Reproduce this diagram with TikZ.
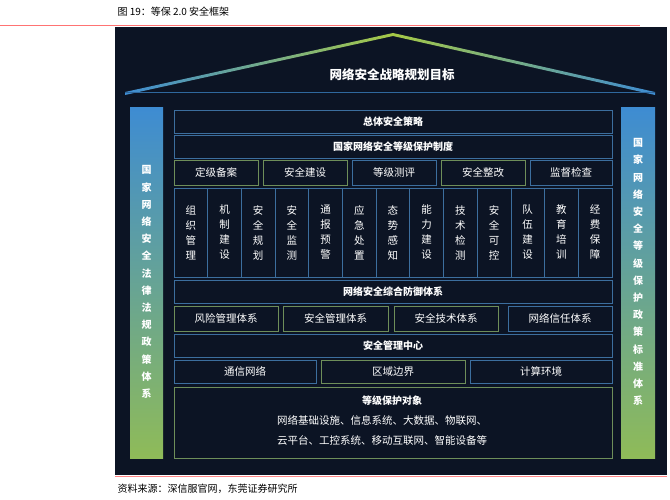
\documentclass[tikz,border=0pt]{standalone}
\usepackage{fontspec}
\setmainfont{Noto Sans CJK SC}
\usetikzlibrary{calc}
\definecolor{bg}{HTML}{0C1424}
\definecolor{bl}{HTML}{3C6E9E}
\definecolor{gr}{HTML}{6E8E5A}
\definecolor{sb}{HTML}{3E8CD2}
\definecolor{sg}{HTML}{8FBB58}
\tikzset{
  bx/.style={draw=bl,line width=0.8pt,text=white,font=\fontsize{10}{12}\selectfont,inner sep=0pt},
  hb/.style={bx,font=\bfseries\fontsize{10}{12}\selectfont},
  gbx/.style={bx,draw=gr},
  vt/.style={text=white,font=\fontsize{10.5}{15}\selectfont,align=center},
  sidet/.style={text=white,font=\bfseries\fontsize{10}{17.2}\selectfont,align=center}
}
\newcommand{\rb}[6]{\node[#1,minimum width=#4-#2,minimum height=#5-#3] (#6) at ({(#2+#4)/2},{(#3+#5)/2}) {};}
\begin{document}
\begin{tikzpicture}[x=1pt,y=-1pt]
\useasboundingbox (0,0) rectangle (670,500);
\node[anchor=west,font=\fontsize{10}{12}\selectfont] (cap) at (114,12) {图 19：等保 2.0 安全框架};
\draw[red!40!pink,line width=0.6pt] (0,25) coordinate (l1) -- (640,25) coordinate (l2);
\fill[bg] (115,27) rectangle (667,475);
\draw[red!30!pink,line width=0.8pt] (115,476) coordinate (b1) -- (667,476) coordinate (b2);
% roof
\coordinate (rl) at (125,93); \coordinate (ra) at (393,34); \coordinate (rr) at (655,93);
\shade[left color=sb,right color=sg!80!yellow] (125,92) -- (393,33) -- (393,36) -- (125,95) -- cycle;
\shade[left color=sg!80!yellow,right color=sb] (393,33) -- (655,92) -- (655,95) -- (393,36) -- cycle;
\draw[sb!70!bg,line width=1pt] (rl) -- (rr);
\node[text=white,font=\bfseries\fontsize{12.5}{14}\selectfont] (goal) at (392,75) {网络安全战略规划目标};
% side bars
\shade[top color=sb,bottom color=sg] (130,108) rectangle (163,458);
\shade[top color=sb,bottom color=sg] (621,108) rectangle (655,458);
\node[sidet] (lt) at (146.5,282) {国\\家\\网\\络\\安\\全\\法\\律\\法\\规\\政\\策\\体\\系};
\node[sidet] (rt) at (638,272) {国\\家\\网\\络\\安\\全\\等\\级\\保\\护\\政\\策\\标\\准\\体\\系};
% rows
\rb{hb}{174}{110}{612}{133}{r1} \node[text=white,font=\bfseries\fontsize{10}{12}\selectfont] at (r1) {总体安全策略};
\rb{hb}{174}{135}{612}{158}{r2} \node[text=white,font=\bfseries\fontsize{10}{12}\selectfont] at (r2) {国家网络安全等级保护制度};
\foreach \a/\b/\t/\s [count=\i] in {174/258/定级备案/gbx,263/347/安全建设/gbx,352/436/等级测评/bx,441/525/安全整改/gbx,530/612/监督检查/bx}{
  \rb{\s}{\a}{160}{\b}{185}{f\i} \node[text=white,font=\fontsize{10.5}{12}\selectfont] at (f\i) {\t};
}
\foreach \t [count=\i] in {组\\织\\管\\理,机\\制\\建\\设,安\\全\\规\\划,安\\全\\监\\测,通\\报\\预\\警,应\\急\\处\\置,态\\势\\感\\知,能\\力\\建\\设,技\\术\\检\\测,安\\全\\可\\控,队\\伍\\建\\设,教\\育\\培\\训,经\\费\\保\\障}{
  \pgfmathsetmacro\xa{174+(\i-1)*33.69}
  \pgfmathsetmacro\xb{\xa+33.69}
  \rb{bx}{\xa}{188}{\xb}{277}{c\i} \node[vt] at (c\i) {\t};
}
\rb{hb}{174}{280}{612}{303}{r3} \node[text=white,font=\bfseries\fontsize{10}{12}\selectfont] at (r3) {网络安全综合防御体系};
\foreach \a/\b/\t/\s [count=\i] in {174/278/风险管理体系/gbx,283/388/安全管理体系/gbx,394/498/安全技术体系/gbx,508/612/网络信任体系/bx}{
  \rb{\s}{\a}{306}{\b}{331}{d\i} \node[text=white,font=\fontsize{10.5}{12}\selectfont] at (d\i) {\t};
}
\rb{hb}{174}{334}{612}{357}{r4} \node[text=white,font=\bfseries\fontsize{10}{12}\selectfont] at (r4) {安全管理中心};
\foreach \a/\b/\t/\s [count=\i] in {174/316/通信网络/bx,321/465/区域边界/gbx,470/612/计算环境/bx}{
  \rb{\s}{\a}{360}{\b}{383}{e\i} \node[text=white,font=\fontsize{10.5}{12}\selectfont] at (e\i) {\t};
}
\rb{gbx}{174}{387}{612}{458}{r5}
\node[text=white,font=\bfseries\fontsize{10}{12}\selectfont] (t5) at (392,401) {等级保护对象};
\node[text=white,font=\fontsize{10.5}{20}\selectfont,align=left] (t6) at (382,430) {网络基础设施、信息系统、大数据、物联网、\\云平台、工控系统、移动互联网、智能设备等};
\node[anchor=west,font=\fontsize{10}{12}\selectfont] (src) at (114,489) {资料来源：深信服官网，东莞证券研究所};
\end{tikzpicture}
\end{document}
